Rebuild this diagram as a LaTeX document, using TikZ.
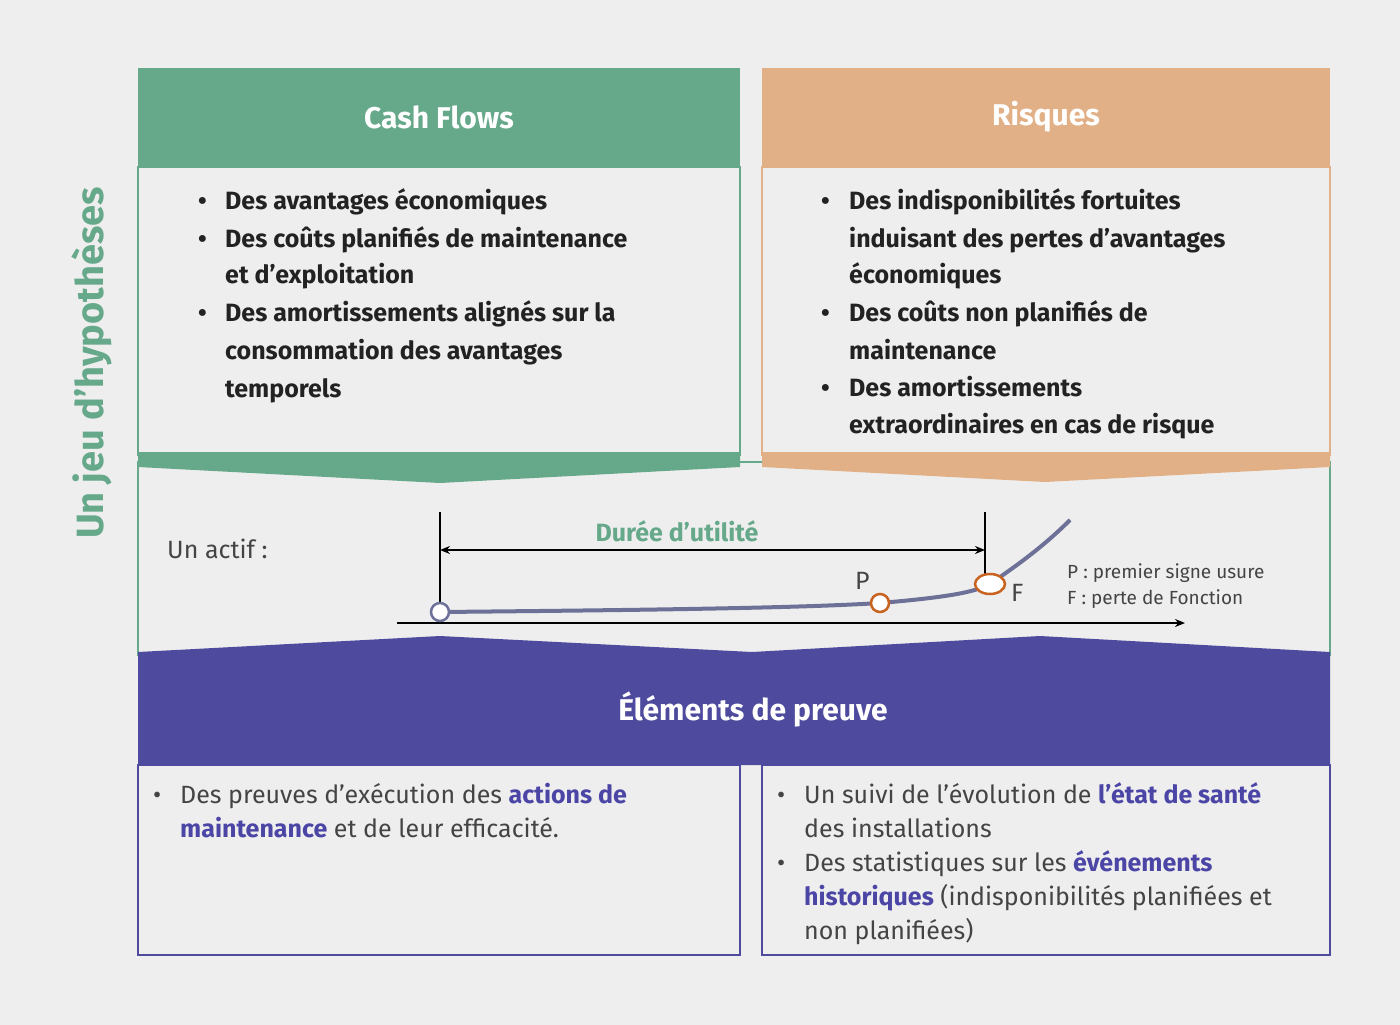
\documentclass[tikz,border=0pt]{standalone}
\usepackage{fontspec}
\setmainfont{Fira Sans}
\usetikzlibrary{arrows.meta,shapes.geometric}
\definecolor{bg}{HTML}{EEEEEE}
\definecolor{gr}{HTML}{66A88A}
\definecolor{org}{HTML}{E2B086}
\definecolor{pur}{HTML}{4E4A9E}
\definecolor{hl}{HTML}{4B45A6}
\definecolor{txt}{HTML}{222222}
\definecolor{lt}{HTML}{444444}
\definecolor{crv}{HTML}{6E7197}
\definecolor{oc}{HTML}{C8621E}
\begin{document}
\begin{tikzpicture}[x=1pt,y=-1pt,
 hd/.style={text=white,font=\fontsize{30}{36}\selectfont\bfseries},
 bl/.style={anchor=base west,inner sep=0,text=txt,font=\fontsize{25}{30}\selectfont\bfseries},
 bt/.style={anchor=base west,inner sep=0,text=lt,font=\fontsize{25}{30}\selectfont},
 sm/.style={anchor=base west,inner sep=0,text=lt,font=\fontsize{19}{23}\selectfont}]
\fill[bg] (0,0) rectangle (1400,1025);
\useasboundingbox (0,0) rectangle (1400,1025);
% middle region
\draw[gr,line width=1.2] (138,462) rectangle (1330,655);
% top boxes
\fill[bg] (138,167) rectangle (740,455);
\draw[gr,line width=1.2] (138,167) rectangle (740,455);
\fill[gr] (138,68) rectangle (740,167);
\fill[gr] (138,452) -- (740,452) -- (740,467) -- (440,483) -- (138,467) -- cycle;
\fill[bg] (762,167) rectangle (1330,455);
\draw[org,line width=1.2] (762,167) rectangle (1330,455);
\fill[org] (762,68) rectangle (1330,167);
\fill[org] (762,452) -- (1330,452) -- (1330,467) -- (1045,482) -- (762,467) -- cycle;
\node[hd] (h1) at (439,117) {Cash Flows};
\node[hd] (h2) at (1046,117) {Risques};
% purple
\fill[pur] (138,652) -- (440,636) -- (752,652) -- (1040,636) -- (1330,652) -- (1330,765) -- (138,765) -- cycle;
\node[hd] (h3) at (753,709) {Éléments de preuve};
\draw[pur,line width=1.2] (138,765) rectangle (740,955);
\draw[pur,line width=1.2] (762,765) rectangle (1330,955);
% side title
\node[rotate=90,text=gr,font=\fontsize{38}{44}\selectfont\bfseries] (side) at (92,363) {Un jeu d’hypothèses};
% left list
\node[bl] (a0) at (198,209) {•};
\node[bl] (a1) at (225,209) {Des avantages économiques};
\node[bl] (b0) at (198,247) {•};
\node[bl] (a2) at (225,247) {Des coûts planifiés de maintenance};
\node[bl] (a3) at (225,283) {et d’exploitation};
\node[bl] (c0) at (198,321) {•};
\node[bl] (a4) at (225,321) {Des amortissements alignés sur la};
\node[bl] (a5) at (225,359) {consommation des avantages};
\node[bl] (a6) at (225,397) {temporels};
% right list
\node[bl] (d0) at (821,209) {•};
\node[bl] (r1) at (849,209) {Des indisponibilités fortuites};
\node[bl] (r2) at (849,247) {induisant des pertes d’avantages};
\node[bl] (r3) at (849,283) {économiques};
\node[bl] (e0) at (821,321) {•};
\node[bl] (r4) at (849,321) {Des coûts non planifiés de};
\node[bl] (r5) at (849,359) {maintenance};
\node[bl] (f0) at (821,396) {•};
\node[bl] (r6) at (849,396) {Des amortissements};
\node[bl] (r7) at (849,433) {extraordinaires en cas de risque};
% bottom left
\node[bt] (g0) at (153,803) {•};
\node[bt] (m1) at (180,803) {Des preuves d’exécution des \textcolor{hl}{\bfseries actions de}};
\node[bt] (m2) at (180,837) {\textcolor{hl}{\bfseries maintenance} et de leur efficacité.};
% bottom right
\node[bt] (g1) at (777,803) {•};
\node[bt] (n1) at (804,803) {Un suivi de l’évolution de \textcolor{hl}{\bfseries l’état de santé}};
\node[bt] (n2) at (804,837) {des installations};
\node[bt] (g2) at (777,871) {•};
\node[bt] (n3) at (804,871) {Des statistiques sur les \textcolor{hl}{\bfseries événements}};
\node[bt] (n4) at (804,905) {\textcolor{hl}{\bfseries historiques} (indisponibilités planifiées et};
\node[bt] (n5) at (804,939) {non planifiées)};
% middle diagram
\node[bt] (actif) at (167,558) {Un actif :};
\coordinate (ax0) at (397,623); \coordinate (ax1) at (1185,623);
\draw[line width=2,-{Stealth[length=10,width=8]}] (ax0) -- (ax1);
\coordinate (v0) at (440,512); \coordinate (v0b) at (440,612);
\coordinate (v1) at (985,512); \coordinate (v1b) at (985,585);
\draw[line width=1.2] (v0) -- (v0b);
\draw[line width=1.2] (v1) -- (v1b);
\draw[line width=2,{Stealth[length=10,width=8]}-{Stealth[length=10,width=8]}] (440,550) coordinate (d0) -- (985,550) coordinate (d1);
\node[text=gr,font=\fontsize{25}{30}\selectfont\bfseries] (duree) at (677,531) {Durée d'utilité};
\draw[crv,line width=4] (440,612) .. controls (650,610) and (800,608) .. (880,603) .. controls (950,597) and (975,592) .. (990,584) .. controls (1010,570) and (1040,550) .. (1070,520);
\node[circle,draw=crv,fill=white,line width=2.5,minimum size=18,inner sep=0] (c0) at (440,612) {};
\node[circle,draw=oc,fill=white,line width=2.5,minimum size=18,inner sep=0] (c1) at (880,603) {};
\node[ellipse,draw=oc,fill=white,line width=2.5,minimum width=30,minimum height=20,inner sep=0] (c2) at (990,584) {};
\node[bt] (P) at (855,589) {P};
\node[bt] (F) at (1011,601) {F};
\node[sm] (lg1) at (1067,578) {P : premier signe usure};
\node[sm] (lg2) at (1067,604) {F : perte de Fonction};
\end{tikzpicture}
\end{document}
